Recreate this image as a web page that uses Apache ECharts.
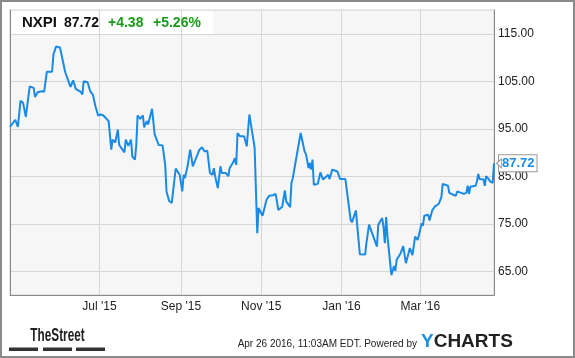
<!DOCTYPE html>
<html><head><meta charset="utf-8">
<script src="https://cdn.jsdelivr.net/npm/echarts@6/dist/echarts.min.js"></script>
<style>html,body{margin:0;padding:0;background:#fff}#c{width:575px;height:358px}</style>
</head><body><div id="c"></div>
<script>
const dates = ['2015-04-24','2015-04-28','2015-04-30','2015-05-02','2015-05-04','2015-05-06','2015-05-09','2015-05-12','2015-05-13','2015-05-15','2015-05-18','2015-05-20','2015-05-22','2015-05-26','2015-05-27','2015-05-29','2015-06-01','2015-06-05','2015-06-06','2015-06-09','2015-06-11','2015-06-13','2015-06-17','2015-06-18','2015-06-19','2015-06-22','2015-06-24','2015-06-26','2015-06-28','2015-06-30','2015-07-02','2015-07-04','2015-07-08','2015-07-10','2015-07-11','2015-07-13','2015-07-15','2015-07-16','2015-07-20','2015-07-21','2015-07-23','2015-07-25','2015-07-26','2015-07-28','2015-07-29','2015-07-30','2015-08-01','2015-08-03','2015-08-04','2015-08-06','2015-08-07','2015-08-10','2015-08-12','2015-08-15','2015-08-18','2015-08-20','2015-08-21','2015-08-23','2015-08-25','2015-08-26','2015-08-28','2015-08-29','2015-08-31','2015-09-02','2015-09-03','2015-09-04','2015-09-06','2015-09-08','2015-09-10','2015-09-13','2015-09-15','2015-09-17','2015-09-19','2015-09-21','2015-09-23','2015-09-25','2015-09-26','2015-09-27','2015-09-29','2015-09-30','2015-10-01','2015-10-02','2015-10-05','2015-10-07','2015-10-08','2015-10-11','2015-10-12','2015-10-13','2015-10-14','2015-10-16','2015-10-19','2015-10-21','2015-10-23','2015-10-25','2015-10-27','2015-10-28','2015-10-29','2015-10-30','2015-11-02','2015-11-05','2015-11-06','2015-11-07','2015-11-10','2015-11-12','2015-11-14','2015-11-17','2015-11-18','2015-11-19','2015-11-20','2015-11-23','2015-11-24','2015-11-25','2015-12-01','2015-12-04','2015-12-05','2015-12-07','2015-12-08','2015-12-09','2015-12-10','2015-12-11','2015-12-14','2015-12-16','2015-12-18','2015-12-22','2015-12-23','2015-12-25','2015-12-27','2015-12-29','2015-12-30','2015-12-31','2016-01-04','2016-01-08','2016-01-09','2016-01-12','2016-01-13','2016-01-14','2016-01-15','2016-01-19','2016-01-20','2016-01-22','2016-01-25','2016-01-28','2016-01-29','2016-02-01','2016-02-02','2016-02-03','2016-02-04','2016-02-05','2016-02-08','2016-02-10','2016-02-11','2016-02-12','2016-02-15','2016-02-17','2016-02-19','2016-02-21','2016-02-22','2016-02-24','2016-02-26','2016-02-28','2016-02-29','2016-03-02','2016-03-03','2016-03-04','2016-03-07','2016-03-08','2016-03-10','2016-03-12','2016-03-15','2016-03-17','2016-03-18','2016-03-22','2016-03-23','2016-03-26','2016-03-28','2016-03-29','2016-03-31','2016-04-01','2016-04-03','2016-04-05','2016-04-06','2016-04-07','2016-04-08','2016-04-12','2016-04-13','2016-04-14','2016-04-15','2016-04-18','2016-04-19','2016-04-20','2016-04-22','2016-04-23','2016-04-25','2016-04-26'];
const prices = [95.4,96.9,95.4,100.9,100.4,97.5,103.9,103.6,101.7,102.7,102.9,102.8,107.0,107.0,110.6,112.3,112.1,106.9,106.8,103.8,105.2,103.4,102.7,102.2,105.0,104.8,102.9,102.2,99.7,97.8,98.0,97.8,96.6,90.6,92.7,92.1,94.8,91.6,90.0,92.7,91.4,92.7,89.2,88.5,91.5,97.8,97.1,97.8,95.3,96.6,95.9,99.2,93.8,91.6,91.5,87.4,81.8,79.8,79.4,81.8,86.6,86.7,85.3,81.8,85.3,84.6,87.1,90.6,87.1,89.2,90.6,91.1,90.2,90.4,85.7,85.3,86.7,85.0,82.5,82.4,87.1,85.7,85.7,85.0,86.7,88.1,88.8,87.4,94.1,93.4,93.4,91.3,98.0,94.5,91.0,91.1,73.0,78.3,76.7,80.0,79.7,80.9,81.0,81.3,77.9,78.6,78.8,82.0,79.7,78.5,83.6,84.6,94.1,90.2,89.7,86.7,87.8,86.4,88.5,83.2,83.4,85.8,84.3,85.3,84.4,86.4,86.2,86.0,86.2,84.4,84.4,75.8,75.3,77.8,74.6,74.4,68.6,68.5,70.9,74.8,72.5,70.2,74.8,76.2,74.3,70.9,76.4,72.3,64.2,66.1,65.1,67.4,68.8,70.3,66.7,68.8,69.9,68.4,72.3,71.6,71.2,75.1,74.6,76.7,76.9,75.7,77.8,78.6,79.2,80.6,83.4,83.0,81.5,81.1,80.9,81.8,81.6,82.0,81.3,81.5,83.0,81.3,82.8,83.0,83.9,85.5,84.4,84.3,83.0,85.0,84.4,83.9,83.6,87.72];
const xTickDates = ['2015-07-01','2015-09-01','2015-11-01','2016-01-01','2016-03-01'];
const xTickLabels = ["Jul '15","Sep '15","Nov '15","Jan '16","Mar '16"];
const yTicks = [65,75,85,95,105,115];
const xRange = ['2015-04-24','2016-04-26'];
const yRange = [60,120];
const ticker = 'NXPI', lastPrice = '87.72', change = '+4.38', changePct = '+5.26%';
const stamp = 'Apr 26 2016, 11:03AM EDT. Powered by';

const toTime = d => +echarts.time.parse(d);
const chart = echarts.init(document.getElementById('c'), null, {renderer:'canvas'});
const tickTimes = xTickDates.map(toTime);
const lineColor = '#1a8ae6';
const seriesData = dates.map((d,i)=>[toTime(d), prices[i]]);
chart.setOption({
  animation:false,
  backgroundColor:'#fff',
  grid:{left:10, top:10, right:81, bottom:63, containLabel:false, show:true, backgroundColor:'transparent', borderColor:'#d0d0d0', borderWidth:1},
  xAxis:{type:'value', min:toTime(xRange[0]), max:toTime(xRange[1]),
    axisLine:{show:true, lineStyle:{color:'#888', width:1}},
    axisTick:{show:false, customValues:tickTimes},
    axisLabel:{customValues:tickTimes, margin:6, color:'#222', fontSize:12, fontFamily:'Liberation Sans, Arial',
      formatter:(v)=>{const i=tickTimes.indexOf(+v); return i>=0?xTickLabels[i]:'';}},
    splitLine:{show:true, lineStyle:{color:'#d6d6d6', width:1}}
  },
  yAxis:[{type:'value', position:'right', min:yRange[0], max:yRange[1],
    axisLine:{show:true, lineStyle:{color:'#888', width:1}},
    axisTick:{show:false, customValues:yTicks},
    axisLabel:{customValues:yTicks, margin:4, color:'#222', fontSize:12, fontFamily:'Liberation Sans, Arial',
      formatter:(v)=>Number(v).toFixed(2)},
    splitLine:{show:true, lineStyle:{color:'#d6d6d6', width:1}}
  },{type:'value', position:'left', min:yRange[0], max:yRange[1],
    axisLine:{show:true, lineStyle:{color:'#888', width:1}},
    axisTick:{show:false}, axisLabel:{show:false}, splitLine:{show:false}}],
  series:[{type:'line', yAxisIndex:0, showSymbol:false, symbol:'none',
    data: seriesData,
    lineStyle:{color:lineColor, width:2}, itemStyle:{color:lineColor},
    endLabel:{show:true, distance:5, formatter:()=>lastPrice, color:lineColor, fontWeight:'bold', fontSize:13,
      fontFamily:'Liberation Sans, Arial', backgroundColor:'#fff', borderColor:'#999', borderWidth:1, padding:[2,2,1,3]},
    markPoint:{silent:true, symbol:'triangle', symbolRotate:90, symbolSize:[9,5], symbolOffset:[5,0],
      itemStyle:{color:'#fff', borderColor:'#999', borderWidth:1}, label:{show:false},
      data:[{coord:seriesData[seriesData.length-1]}]}
  }],
  graphic:[
    {type:'rect', z:-10, shape:{x:10, y:10, width:484, height:285}, style:{fill:'#f6f6f6'}},
    {type:'rect', z:-9, shape:{x:10, y:10, width:203, height:24}, style:{fill:'#fff'}},
    {type:'rect', z:50, shape:{x:1, y:1, width:573, height:356}, style:{fill:null, stroke:'#8a8a8a', lineWidth:2}},
    {type:'text', z:50, x:22, y:23, style:{text:ticker, fill:'#111', font:'bold 15px "Liberation Sans", Arial', verticalAlign:'middle'}},
    {type:'text', z:50, x:64, y:23, style:{text:lastPrice, fill:'#111', font:'bold 14px "Liberation Sans", Arial', verticalAlign:'middle'}},
    {type:'text', z:50, x:108, y:23, style:{text:change, fill:'#1a9c1a', font:'bold 14px "Liberation Sans", Arial', verticalAlign:'middle'}},
    {type:'text', z:50, x:153, y:23, style:{text:changePct, fill:'#1a9c1a', font:'bold 14px "Liberation Sans", Arial', verticalAlign:'middle'}},
    {type:'text', z:50, x:57.5, y:336, scaleX:0.62, style:{text:'TheStreet', fill:'#222', font:'bold 19px "Liberation Sans", Arial', align:'center', verticalAlign:'middle'}},
    {type:'rect', z:50, shape:{x:9, y:347.5, width:29, height:3.5}, style:{fill:'#333'}},
    {type:'rect', z:50, shape:{x:43, y:347.5, width:29, height:3.5}, style:{fill:'#333'}},
    {type:'rect', z:50, shape:{x:76, y:347.5, width:29, height:3.5}, style:{fill:'#333'}},
    {type:'text', z:50, x:417, y:344.5, style:{text:stamp, fill:'#222', font:'10px "Liberation Sans", Arial', align:'right', verticalAlign:'middle'}},
    {type:'text', z:50, x:421, y:341.5, style:{rich:{y:{fill:'#1e90e0', font:'bold 19px "Liberation Sans", Arial'}, c:{fill:'#222', font:'bold 19px "Liberation Sans", Arial'}}, text:'{y|Y}{c|CHARTS}', verticalAlign:'middle'}}
  ]
});
</script></body></html>
